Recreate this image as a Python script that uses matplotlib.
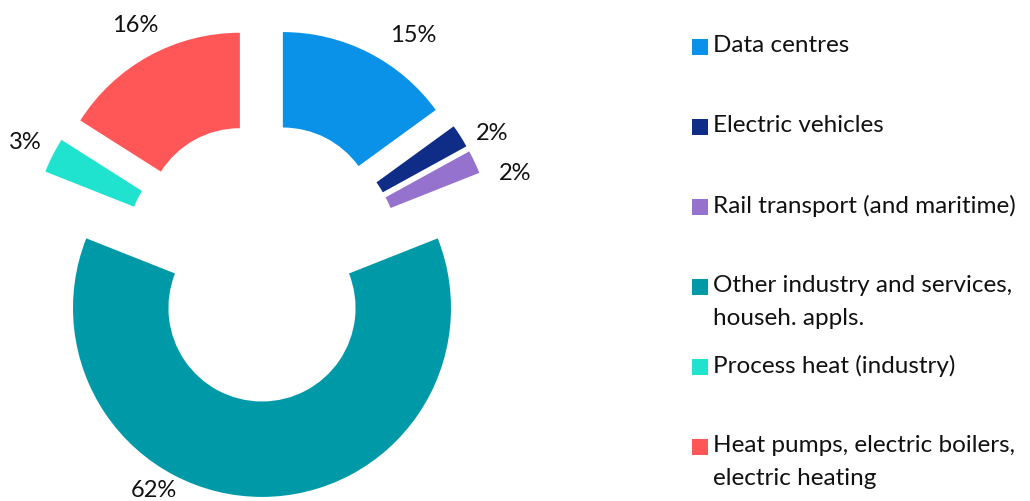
import matplotlib.pyplot as plt
from matplotlib.patches import Rectangle

# Data
categories = ['Data centres', 'Electric vehicles', 'Rail transport (and maritime)',
              'Other industry and services,\nhouseh. appls.', 'Process heat (industry)',
              'Heat pumps, electric boilers,\nelectric heating']
shares = [15, 2, 2, 62, 3, 16]
colors = ['#0A92E8', '#0F2D86', '#9572CD', '#0099A7', '#1FE3CF', '#FF5757']

# label positions (pie radius units, relative to pie centre)
label_xy = [(0.80, 1.20), (1.22, 0.68), (1.34, 0.47), (-0.57, -1.21), (-1.25, 0.63), (-0.67, 1.25)]

plt.rcParams['font.family'] = ['Lato', 'DejaVu Sans']
FS = 17

W, H = 1030, 501
R = 189.0          # pie radius in px
CX, CY = 262, 262  # pie centre in px (from top-left)

fig = plt.figure(figsize=(W / 100, H / 100), dpi=100)
ax = fig.add_axes([0, 0, 1, 1])

ax.pie(shares, colors=colors, startangle=90, counterclock=False,
       explode=[0.243] * len(shares), radius=1,
       wedgeprops=dict(width=0.505, linewidth=0))

for (x, y), v in zip(label_xy, shares):
    ax.text(x, y, f'{v}%', ha='center', va='center', fontsize=FS, color='#111111')

ax.set_xlim(-CX / R, (W - CX) / R)
ax.set_ylim(-(H - CY) / R, CY / R)
ax.set_aspect('auto')
ax.axis('off')

# legend drawn by hand so the marker lines up with the first text line
for i, (lab, c) in enumerate(zip(categories, colors)):
    yc = 47 + 80 * i
    fig.patches.append(Rectangle((692 / W, 1 - (yc + 8) / H), 16 / W, 16 / H,
                                 transform=fig.transFigure, color=c, linewidth=0))
    fig.text(713 / W, 1 - (yc - 12) / H, lab, ha='left', va='top', fontsize=17.5,
             color='#111111', linespacing=1.7)

fig.savefig('out.png', dpi=100)
